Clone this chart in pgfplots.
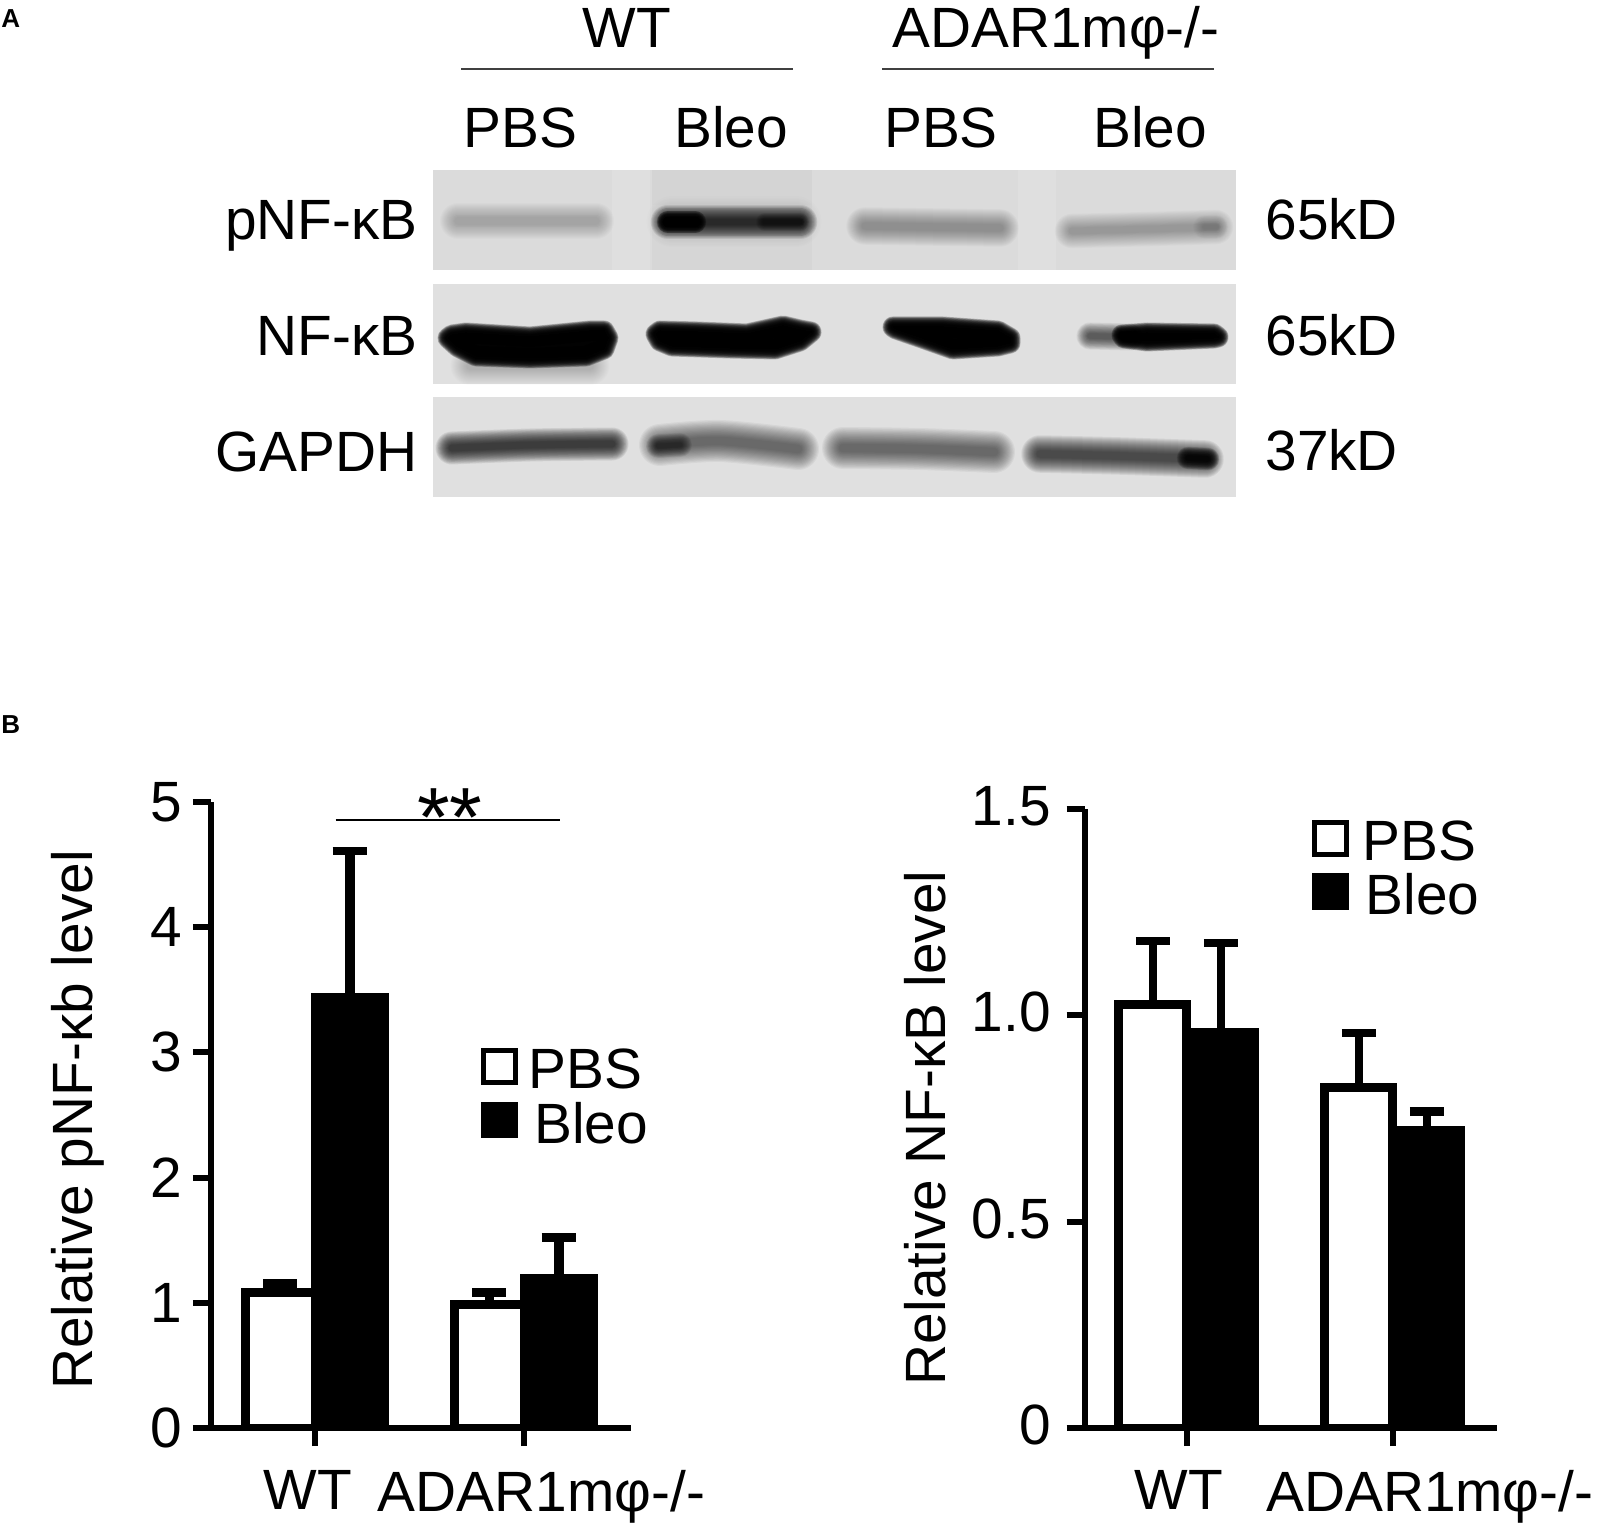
\documentclass[border=0pt]{standalone}
\usepackage{pgfplots}
\pgfplotsset{compat=1.18}
\usepackage{fontspec}
\setmainfont{Liberation Sans}

% one picture pixel is 0.5pt; the page is 1599x1525 px
% a blot band: width in px, opacity of each layer, centre line
\newcommand{\layer}[3]{\addplot[blot, line width={#2*#1pt}, draw opacity=#3] coordinates {\bandline};}
\newcommand{\band}[3]{%
  \def\bandline{#3}%
  \layer{.75}{#1}{#2}\layer{.71}{#1}{#2}\layer{.67}{#1}{#2}\layer{.63}{#1}{#2}%
  \layer{.59}{#1}{#2}\layer{.55}{#1}{#2}\layer{.51}{#1}{#2}\layer{.47}{#1}{#2}%
  \layer{.43}{#1}{#2}\layer{.39}{#1}{#2}\layer{.35}{#1}{#2}\layer{.31}{#1}{#2}%
  \layer{.27}{#1}{#2}\layer{.23}{#1}{#2}\layer{.19}{#1}{#2}\layer{.15}{#1}{#2}%
}
% a saturated band: blur in px, outline of its core
\newcommand{\blobl}[2]{\addplot[black, line join=round, line width={#2*#1pt}, draw opacity=.22, fill=black, fill opacity=.22] coordinates {\bandline} --cycle;}
\newcommand{\blob}[2]{%
  \def\bandline{#2}%
  \blobl{.75}{#1}\blobl{.71}{#1}\blobl{.67}{#1}\blobl{.63}{#1}%
  \blobl{.59}{#1}\blobl{.55}{#1}\blobl{.51}{#1}\blobl{.47}{#1}%
  \blobl{.43}{#1}\blobl{.39}{#1}\blobl{.35}{#1}\blobl{.31}{#1}%
  \blobl{.27}{#1}\blobl{.23}{#1}\blobl{.19}{#1}\blobl{.15}{#1}%
}
\newcommand{\labelat}[4]{\node[anchor=#1, inner sep=0pt, font=\fontsize{28.4}{30}\selectfont] at (axis cs:#2,#3) {#4};}

\pgfplotsset{
  blot/.style={black, smooth, line cap=round, line join=round},
  relbars/.style={
    scale only axis,
    ybar=0pt,
    axis x line*=bottom,
    axis y line*=left,
    axis line style={line width=2.8pt},
    tick align=outside,
    major tick length=9pt,
    tick style={black, line width=3pt},
    xtick={0,1},
    ymin=0,
    tick label style={font=\fontsize{28.4}{30}\selectfont},
    label style={font=\fontsize{28.4}{30}\selectfont},
    /pgf/number format/assume math mode=true,
    xticklabel style={yshift=-8.5pt},
    legend image code/.code={\draw[#1, line width=2.4pt] (0pt,-6pt) rectangle (16pt,10pt);},
    legend style={draw=none, fill=none, font=\fontsize{28.4}{30}\selectfont,
      row sep=5pt, inner sep=0pt, nodes={inner sep=0pt}},
    legend cell align=left,
    error bars/y dir=plus,
    error bars/y explicit,
    error bars/error mark options={black, rotate=90, mark size=8.5pt, line width=4.3pt},
  },
  whitebar/.style={draw=black, fill=white, line width=4.5pt},
  blackbar/.style={draw=black, fill=black, line width=4.5pt},
}

\begin{document}
\begin{tikzpicture}
\path[use as bounding box] (0pt,0pt) rectangle (799.5pt,762.5pt);

% panel A and the annotations, in picture pixels
\begin{axis}[
    at={(0pt,0pt)}, anchor=south west, scale only axis,
    width=799.5pt, height=762.5pt,
    xmin=0, xmax=1599, ymin=0, ymax=1525, y dir=reverse,
    hide axis, clip=false,
  ]
  \addplot[fill=black!14, draw=none] coordinates {(433,170)(1236,170)(1236,270)(433,270)} --cycle;
  \addplot[fill=black!12, draw=none] coordinates {(433,284)(1236,284)(1236,384)(433,384)} --cycle;
  \addplot[fill=black!12, draw=none] coordinates {(433,397)(1236,397)(1236,497)(433,497)} --cycle;
  % lanes of the pNF-kB membrane
  \addplot[fill=white, draw=none, fill opacity=.12] coordinates {(612,170)(650,170)(650,270)(612,270)} --cycle;
  \addplot[fill=white, draw=none, fill opacity=.12] coordinates {(1018,170)(1056,170)(1056,270)(1018,270)} --cycle;
  \addplot[fill=black, draw=none, fill opacity=.03] coordinates {(652,170)(812,170)(812,205)(652,205)} --cycle;
  \addplot[fill=black, draw=none, fill opacity=.02] coordinates {(652,205)(812,205)(812,270)(652,270)} --cycle;

  % pNF-kB
  \band{24}{.0153}{(458,221)(596,221)}
  \band{34}{.008}{(672,222)(796,222)}
  \band{23}{.083}{(668,222)(800,222)}
  \band{15}{.22}{(668,222)(695,222)}
  \band{12}{.04}{(765,222)(800,222)}
  \band{25}{.023}{(865,226)(1000,228)}
  \band{23}{.021}{(1072,231)(1150,229)(1216,227)}
  \band{16}{.012}{(1205,227)(1216,227)}
  % NF-kB
  \band{26}{.012}{(470,366)(590,366)}
  \blob{14}{(448,338)(452,335)(466,333)(530,337)(590,331)(604,331)(608,338)(604,349)(586,356)(530,358)(476,356)(458,347)}
  \blob{14}{(656,334)(660,331)(697,332)(747,334)(783,326)(800,330)(811,332)(800,341)(775,349)(730,348)(672,346)(660,341)}
  \blob{14}{(893,327)(943,327)(998,331)(1010,338)(1010,343)(998,346)(953,349)(922,338)(896,329)}
  \band{18}{.05}{(1090,336)(1130,337)}
  \blob{14}{(1122,335)(1147,333)(1214,334)(1218,337)(1214,338)(1147,341)(1124,338)}
  % GAPDH
  \band{22}{.075}{(452,448)(530,445)(612,444)}
  \band{28}{.044}{(660,445)(720,441)(798,449)}
  \band{16}{.05}{(658,446)(680,445)}
  \band{28}{.044}{(843,448)(920,449)(994,452)}
  \band{25}{.064}{(1040,454)(1120,456)(1205,459)}
  \band{15}{.12}{(1188,458)(1208,459)}

  \addplot[black!75, line width=1.1pt] coordinates {(461,69)(792.5,69)};
  \addplot[black!75, line width=1.1pt] coordinates {(882,69)(1213.5,69)};
  \addplot[black, line width=0.9pt] coordinates {(335.5,820)(559.5,820)};

  \node[anchor=base west, inner sep=0pt, font=\fontsize{13}{15}\selectfont\bfseries] at (axis cs:1,28) {A};
  \node[anchor=base west, inner sep=0pt, font=\fontsize{13}{15}\selectfont\bfseries] at (axis cs:1,733) {B};
  \labelat{base}{627}{48}{WT}
  \labelat{base}{1056}{48}{ADAR1mφ-/-}
  \labelat{base}{520.6}{147.5}{PBS}
  \labelat{base}{731}{147.5}{Bleo}
  \labelat{base}{941}{147.5}{PBS}
  \labelat{base}{1150}{147.5}{Bleo}
  \labelat{base east}{418}{240}{pNF-κB}
  \labelat{base east}{418}{355.5}{NF-κB}
  \labelat{base east}{418}{472}{GAPDH}
  \labelat{base west}{1265}{240}{65kD}
  \labelat{base west}{1265}{355.5}{65kD}
  \labelat{base west}{1265}{471}{37kD}
  \node[anchor=base, inner sep=0pt, font=\fontsize{42}{44}\selectfont] at (axis cs:450,846) {**};
\end{axis}

% relative pNF-kB level
\begin{axis}[
    relbars,
    bar width=34.7pt,
    at={(105.5pt,48.5pt)}, anchor=south west,
    width=209.8pt, height=313pt,
    xmin=-0.4976, xmax=1.51, ymax=5,
    ytick={0,1,2,3,4,5},
    yticklabel style={xshift=-2pt},
    xticklabels={\kern-7pt WT, \kern17.4pt ADAR1mφ-/-},
    ylabel={Relative pNF-κb level},
    ylabel style={at={(axis description cs:-0.317,0.492)}, anchor=center},
    error bars/error bar style={black, line width=4.8pt},
    legend style={at={(axis cs:0.792,3.04)}, anchor=north west},
  ]
  \addplot[whitebar] coordinates {(0,1.08) +- (0,0.075) (1,0.985) +- (0,0.095)};
  \addplot[blackbar] coordinates {(0,3.44) +- (0,1.17) (1,1.195) +- (0,0.325)};
  \legend{\kern5.6pt PBS,\kern8.2pt Bleo}
\end{axis}

% relative NF-kB level
\begin{axis}[
    relbars,
    bar width=34pt,
    at={(542.35pt,48.5pt)}, anchor=south west,
    width=206.2pt, height=309.5pt,
    xmin=-0.4956, xmax=1.506, ymax=1.5,
    ytick={0,0.5,1,1.5},
    yticklabels={0,0.5,1.0,1.5},
    yticklabel style={xshift=-4.5pt, yshift=1.5pt},
    xticklabels={\kern-8pt WT, \kern37pt ADAR1mφ-/-},
    ylabel={Relative NF-κB level},
    ylabel style={at={(axis description cs:-0.386,0.485)}, anchor=center},
    error bars/error bar style={black, line width=3.8pt},
    legend style={at={(axis cs:0.608,1.475)}, anchor=north west},
  ]
  \addplot[whitebar] coordinates {(0,1.026) +- (0,0.154) (1,0.826) +- (0,0.131)};
  \addplot[blackbar] coordinates {(0,0.958) +- (0,0.217) (1,0.72) +- (0,0.047)};
  \legend{\kern6.6pt PBS,\kern8.2pt Bleo}
\end{axis}
\end{tikzpicture}
\end{document}
